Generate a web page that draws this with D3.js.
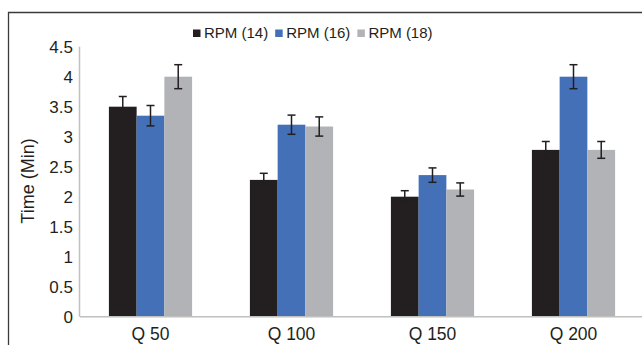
<!DOCTYPE html>
<html>
<head>
<meta charset="utf-8">
<script src="https://cdn.jsdelivr.net/npm/d3@7"></script>
<style>
  html, body { margin: 0; padding: 0; background: #fff; }
  svg { display: block; }
  text { font-family: "Liberation Sans", Arial, sans-serif; fill: #231f20; }
</style>
</head>
<body>
<svg id="chart" width="642" height="345"></svg>
<script>
const categories = ["Q 50", "Q 100", "Q 150", "Q 200"];
const seriesNames = ["RPM (14)", "RPM (16)", "RPM (18)"];
const rpm14 = [3.5, 2.28, 2.0, 2.78];
const rpm16 = [3.35, 3.2, 2.36, 4.0];
const rpm18 = [4.0, 3.17, 2.12, 2.78];
const err14 = [0.17, 0.11, 0.1, 0.14];
const err16 = [0.17, 0.16, 0.12, 0.2];
const err18 = [0.2, 0.16, 0.11, 0.14];
const yTicks = [0, 0.5, 1, 1.5, 2, 2.5, 3, 3.5, 4, 4.5];
const colors = ["#231f20", "#4470b8", "#b1b3b6"];

const values = [rpm14, rpm16, rpm18];
const errors = [err14, err16, err18];

const svg = d3.select("#chart");

// outer frame
svg.append("path")
  .attr("d", "M8.5,345 L8.5,12.5 L642,12.5")
  .attr("fill", "none")
  .attr("stroke", "#3a3a3a")
  .attr("stroke-width", 1.3);

const x = d3.scaleBand().domain(categories).range([80, 644]).paddingInner(0.41).paddingOuter(0.205);
const xs = d3.scaleBand().domain(seriesNames).range([0, x.bandwidth()]).padding(0);
const y = d3.scaleLinear().domain([0, 4.5]).range([316.7, 46.7]);

// y axis line
svg.append("line")
  .attr("x1", 79.5).attr("x2", 79.5)
  .attr("y1", y(4.5)).attr("y2", y(0))
  .attr("stroke", "#c0c0c0").attr("stroke-width", 1.5);

// y tick labels
svg.append("g").selectAll("text").data(yTicks).join("text")
  .attr("x", 73).attr("y", d => y(d))
  .attr("dy", "0.35em")
  .attr("text-anchor", "end")
  .style("font-size", "17px")
  .text(d => d);

// bars
const data = [];
categories.forEach((c, i) => {
  seriesNames.forEach((s, j) => {
    data.push({ c, s, j, v: values[j][i], e: errors[j][i] });
  });
});

svg.append("g").selectAll("rect").data(data).join("rect")
  .attr("x", d => x(d.c) + xs(d.s))
  .attr("y", d => y(d.v))
  .attr("width", xs.bandwidth())
  .attr("height", d => y(0) - y(d.v))
  .attr("fill", d => colors[d.j]);

// baseline
svg.append("line")
  .attr("x1", 80).attr("x2", 642)
  .attr("y1", y(0)).attr("y2", y(0))
  .attr("stroke", "#c0c0c0").attr("stroke-width", 1.5);

// error bars
const eg = svg.append("g").attr("stroke", "#231f20").attr("stroke-width", 1.5);
data.forEach(d => {
  const cx = x(d.c) + xs(d.s) + xs.bandwidth() / 2;
  const top = y(d.v + d.e), bot = y(d.v - d.e);
  eg.append("line").attr("x1", cx).attr("x2", cx).attr("y1", top).attr("y2", bot);
  eg.append("line").attr("x1", cx - 4).attr("x2", cx + 4).attr("y1", top).attr("y2", top);
  eg.append("line").attr("x1", cx - 4).attr("x2", cx + 4).attr("y1", bot).attr("y2", bot);
});

// category labels
svg.append("g").selectAll("text").data(categories).join("text")
  .attr("x", d => x(d) + x.bandwidth() / 2)
  .attr("y", 340)
  .attr("text-anchor", "middle")
  .style("font-size", "17.5px")
  .text(d => d);

// y title
svg.append("text")
  .attr("transform", "translate(34,181) rotate(-90)")
  .attr("text-anchor", "middle")
  .style("font-size", "18px")
  .text("Time (Min)");

// legend
const lg = svg.append("g");
let lx = 193;
seriesNames.forEach((s, j) => {
  lg.append("rect").attr("x", lx).attr("y", 29.5).attr("width", 7.5).attr("height", 7.5).attr("fill", colors[j]);
  const t = lg.append("text").attr("x", lx + 11).attr("y", 38.3).style("font-size", "15px").text(s);
  lx = lx + 11 + t.node().getComputedTextLength() + 7;
});
</script>
</body>
</html>
